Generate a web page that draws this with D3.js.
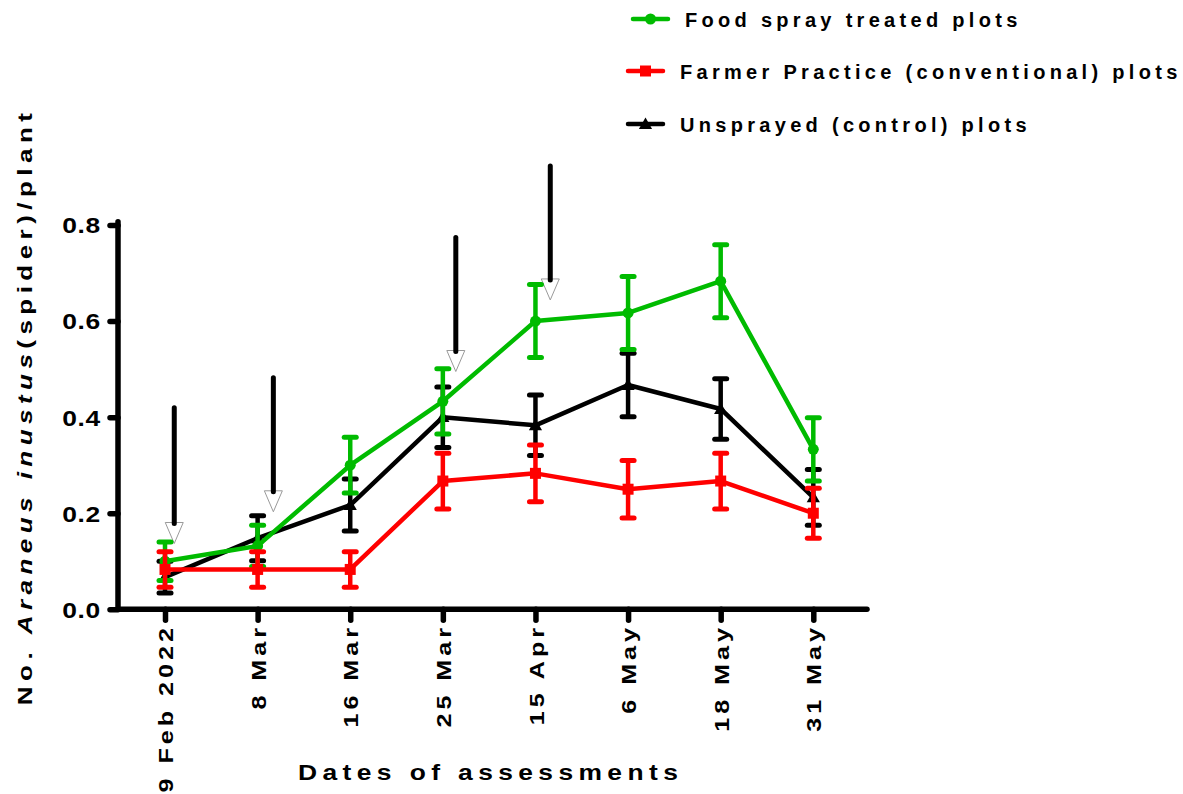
<!DOCTYPE html>
<html>
<head>
<meta charset="utf-8">
<script src="https://cdn.jsdelivr.net/npm/d3@7"></script>
<style>
  html, body { margin: 0; padding: 0; background: #fff; }
  svg { display: block; font-family: "Liberation Sans", Arial, sans-serif; font-weight: bold; }
</style>
</head>
<body>
<svg id="chart" width="1183" height="794"></svg>
<script>
// Assessment dates (x categories)
const dates = ["9 Feb 2022", "8 Mar", "16 Mar", "25 Mar", "15 Apr", "6 May", "18 May", "31 May"];

// Mean spiders per plant and error (±) for each treatment
const foodSpray    = [0.100, 0.132, 0.300, 0.433, 0.600, 0.617, 0.683, 0.333];
const foodSprayErr = [0.040, 0.043, 0.058, 0.068, 0.076, 0.076, 0.076, 0.066];
const farmer       = [0.083, 0.083, 0.083, 0.267, 0.283, 0.250, 0.267, 0.200];
const farmerErr    = [0.037, 0.037, 0.037, 0.058, 0.059, 0.060, 0.058, 0.052];
const unsprayed    = [0.067, 0.148, 0.217, 0.400, 0.383, 0.467, 0.417, 0.233];
const unsprayedErr = [0.033, 0.047, 0.054, 0.063, 0.063, 0.066, 0.063, 0.058];

// Y axis ticks
const yTicks = [0.0, 0.2, 0.4, 0.6, 0.8];

// Spray applications: position along the date index, arrow top and tip values
const sprayAt  = [0.10, 1.17, 3.14, 4.16];
const sprayTop = [0.425, 0.487, 0.779, 0.928];
const sprayTip = [0.137, 0.203, 0.495, 0.644];

const seriesNames = ["Food spray treated plots", "Farmer Practice (conventional) plots", "Unsprayed (control) plots"];

// ---------------------------------------------------------------
const svg = d3.select("#chart");
const plot = { left: 118, right: 867, bottom: 609.3 };

const x = d3.scalePoint().domain(dates).range([165, 813.3]);
const xi = d3.scaleLinear().domain([0, dates.length - 1]).range([165, 813.3]);
const y = d3.scaleLinear().domain([0, 0.8]).range([609.3, 225]);

const GREEN = "#00bb00", RED = "#ff0000", BLACK = "#000000";
const FONT = "Liberation Sans, Arial, sans-serif";

// axis text is drawn slightly widened along its run
const STRETCH = 1.2;

const series = [
  { key: "unsprayed", name: seriesNames[2], values: unsprayed, err: unsprayedErr, color: BLACK, marker: "triangle" },
  { key: "food",      name: seriesNames[0], values: foodSpray, err: foodSprayErr, color: GREEN, marker: "circle" },
  { key: "farmer",    name: seriesNames[1], values: farmer,    err: farmerErr,    color: RED,   marker: "square" }
];

// ---- axes -----------------------------------------------------
const axisW = 5.5;

// y axis ticks and labels
const yAxis = svg.append("g").attr("transform", `translate(${plot.left},0)`)
  .call(d3.axisLeft(y).tickValues(yTicks).tickFormat(d3.format(".1f")).tickSize(8).tickPadding(10));
yAxis.select(".domain").remove();
yAxis.selectAll(".tick line").attr("stroke", "#000").attr("stroke-width", axisW).attr("stroke-linecap", "round");
yAxis.selectAll(".tick text")
  .attr("font-family", FONT).attr("font-weight", "bold")
  .attr("font-size", 22).attr("fill", "#000").style("letter-spacing", "0.6px")
  .attr("transform", `scale(${STRETCH},1)`)
  .attr("x", -17 / STRETCH).attr("dy", "0.36em");

// x axis ticks and rotated labels
const xAxis = svg.append("g").attr("transform", `translate(0,${plot.bottom})`)
  .call(d3.axisBottom(x).tickSize(11).tickPadding(10));
xAxis.select(".domain").remove();
xAxis.selectAll(".tick line").attr("stroke", "#000").attr("stroke-width", axisW).attr("stroke-linecap", "round");
xAxis.selectAll(".tick text")
  .attr("font-family", FONT).attr("font-weight", "bold")
  .attr("font-size", 21).attr("fill", "#000").style("letter-spacing", "3.3px")
  .attr("text-anchor", "end")
  .attr("transform", `rotate(-90) scale(${STRETCH},1)`)
  .attr("x", -14.7 / STRETCH).attr("y", 0).attr("dy", "0.36em");

// axis lines
svg.append("line")
  .attr("x1", plot.left).attr("x2", plot.left)
  .attr("y1", y(0.807)).attr("y2", plot.bottom)
  .attr("stroke", "#000").attr("stroke-width", axisW).attr("stroke-linecap", "round");
svg.append("line")
  .attr("x1", plot.left).attr("x2", plot.right)
  .attr("y1", plot.bottom).attr("y2", plot.bottom)
  .attr("stroke", "#000").attr("stroke-width", axisW).attr("stroke-linecap", "round");

// axis titles
svg.append("text")
  .attr("transform", `translate(488,779.5) scale(${STRETCH},1)`)
  .attr("x", 2.2)
  .attr("text-anchor", "middle")
  .attr("font-size", 22).style("letter-spacing", "4.5px")
  .text("Dates of assessments");

const Y_STRETCH = 1.3;
const yTitle = svg.append("text")
  .attr("transform", `translate(32,409) rotate(-90) scale(${Y_STRETCH},1)`)
  .attr("x", 2)
  .attr("text-anchor", "middle")
  .attr("font-size", 20).style("letter-spacing", "4.2px");
yTitle.append("tspan").text("No. ");
yTitle.append("tspan").attr("font-style", "italic").text("Araneus inustus");
yTitle.append("tspan").text("(spider)/plant");

// ---- spray arrows ---------------------------------------------
const arrows = svg.append("g");
sprayAt.forEach((p, i) => {
  const ax = xi(p), yTip = y(sprayTip[i]), yTop = y(sprayTop[i]);
  const headH = 21, headW = 18;
  arrows.append("path")
    .attr("d", `M${ax - headW / 2},${yTip - headH} L${ax + headW / 2},${yTip - headH} L${ax},${yTip} Z`)
    .attr("fill", "#fff").attr("stroke", "#9a9a9a").attr("stroke-width", 1);
  arrows.append("line")
    .attr("x1", ax).attr("x2", ax)
    .attr("y1", yTop + 2.5).attr("y2", yTip - headH + 1)
    .attr("stroke", "#000").attr("stroke-width", 5).attr("stroke-linecap", "round");
});

// ---- series ---------------------------------------------------
const line = d3.line().x((d, i) => x(dates[i])).y(d => y(d));

function drawMarker(g, type, cx, cy, color, size) {
  if (type === "circle") {
    g.append("circle").attr("cx", cx).attr("cy", cy).attr("r", size * 0.5).attr("fill", color);
  } else if (type === "square") {
    g.append("rect").attr("x", cx - size / 2).attr("y", cy - size / 2)
      .attr("width", size).attr("height", size).attr("fill", color);
  } else {
    const h = size;
    g.append("path")
      .attr("d", `M${cx},${cy - h * 0.6} L${cx + h * 0.6},${cy + h * 0.45} L${cx - h * 0.6},${cy + h * 0.45} Z`)
      .attr("fill", color);
  }
}

series.forEach(s => {
  const g = svg.append("g").attr("class", "series-" + s.key);
  g.append("path")
    .datum(s.values)
    .attr("d", line)
    .attr("fill", "none")
    .attr("stroke", s.color)
    .attr("stroke-width", 4.5)
    .attr("stroke-linejoin", "round");

  s.values.forEach((v, i) => {
    const cx = x(dates[i]);
    const yHi = y(v + s.err[i]), yLo = y(v - s.err[i]);
    g.append("line").attr("x1", cx).attr("x2", cx).attr("y1", yHi).attr("y2", yLo)
      .attr("stroke", s.color).attr("stroke-width", 4.5);
    [yHi, yLo].forEach(yy => {
      g.append("line").attr("x1", cx - 6).attr("x2", cx + 6).attr("y1", yy).attr("y2", yy)
        .attr("stroke", s.color).attr("stroke-width", 5).attr("stroke-linecap", "round");
    });
    drawMarker(g, s.marker, cx, y(v), s.color, 11);
  });
});

// ---- legend ---------------------------------------------------
const legendRows = [
  { s: series[1], y: 20, x1: 633, x2: 668, tx: 685 },
  { s: series[2], y: 72, x1: 628, x2: 663, tx: 680 },
  { s: series[0], y: 125, x1: 628, x2: 663, tx: 680 }
];
const legend = svg.append("g");
legendRows.forEach(r => {
  legend.append("line").attr("x1", r.x1).attr("x2", r.x2).attr("y1", r.y - 1).attr("y2", r.y - 1)
    .attr("stroke", r.s.color).attr("stroke-width", 4.5).attr("stroke-linecap", "round");
  drawMarker(legend, r.s.marker, (r.x1 + r.x2) / 2, r.y - 1, r.s.color, 11);
  legend.append("text").attr("x", r.tx).attr("y", r.y).attr("dy", "0.36em")
    .attr("font-size", 20).style("letter-spacing", "4.3px")
    .text(r.s.name);
});
</script>
</body>
</html>
